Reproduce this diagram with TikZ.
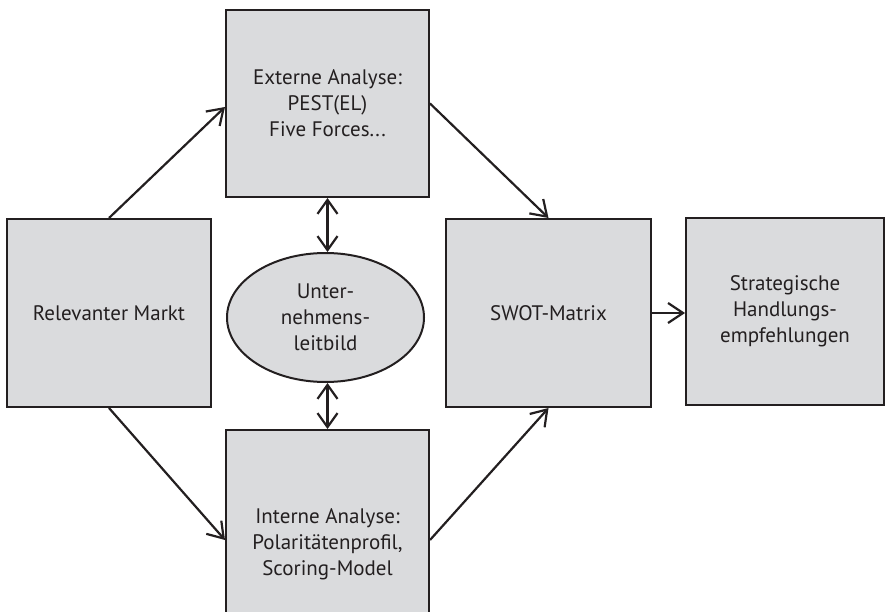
\documentclass[tikz,border=0pt]{standalone}
\usepackage{fontspec}
\setmainfont{PT Sans}
\usetikzlibrary{arrows.meta,shapes.geometric}
\definecolor{boxfill}{RGB}{218,219,221}
\definecolor{ink}{RGB}{35,31,32}
\tikzset{
  box/.style={draw=ink, fill=boxfill, line width=2pt, rectangle,
    align=center, text=ink, inner sep=0pt,
    font=\fontsize{21}{26}\selectfont},
  oval/.style={draw=ink, fill=boxfill, line width=2pt, ellipse,
    align=center, text=ink, inner sep=0pt,
    font=\fontsize{21}{26}\selectfont},
  link/.style={draw=ink, line width=2.2pt,
    -{Straight Barb[length=15pt,width=20pt,line width=2.2pt]}},
  twoway/.style={draw=ink, line width=2.2pt,
    {Straight Barb[length=14pt,width=20pt,line width=2.2pt]}-{Straight Barb[length=14pt,width=20pt,line width=2.2pt]}},
}
\begin{document}
\begin{tikzpicture}[x=1pt,y=-1pt]
\useasboundingbox (0,0) rectangle (885,612);
\clip (0,0) rectangle (885,612);

% boxes of the analysis flow
\node[box, minimum width=204pt, minimum height=188pt] (markt) at (109,313) {Relevanter Markt};
\node[box, minimum width=203pt, minimum height=187pt] (ext) at (327.5,103.5)
  {Externe Analyse:\\PEST(EL)\\Five Forces...};
\node[box, minimum width=203pt, minimum height=228pt] (int) at (327.5,544)
  {Interne Analyse:\\Polaritätenprofil,\\Scoring-Model};
\node[box, minimum width=205pt, minimum height=188pt] (swot) at (548.5,313) {SWOT-Matrix};
\node[box, minimum width=198pt, minimum height=187pt] (strat) at (785,311.5)
  {Strategische\\Handlungs-\\empfehlungen};
\node[oval, minimum width=197pt, minimum height=129pt] (leit) at (325.5,317.5)
  {Unter-\\nehmens-\\leitbild};

% connectors
\draw[link] (markt.north) -- ([yshift=-3.5pt]ext.west);
\draw[link] (markt.south) -- ([yshift=4pt]int.west);
\draw[link] (ext.east) -- (swot.north);
\draw[link] ([yshift=4pt]int.east) -- (swot.south);
\draw[link] (swot.east) -- (swot.east -| strat.west);
\draw[twoway] (ext.south) -- (ext.south |- leit.north);
\draw[twoway] (ext.south |- leit.south) -- (ext.south |- int.north);
\end{tikzpicture}
\end{document}
